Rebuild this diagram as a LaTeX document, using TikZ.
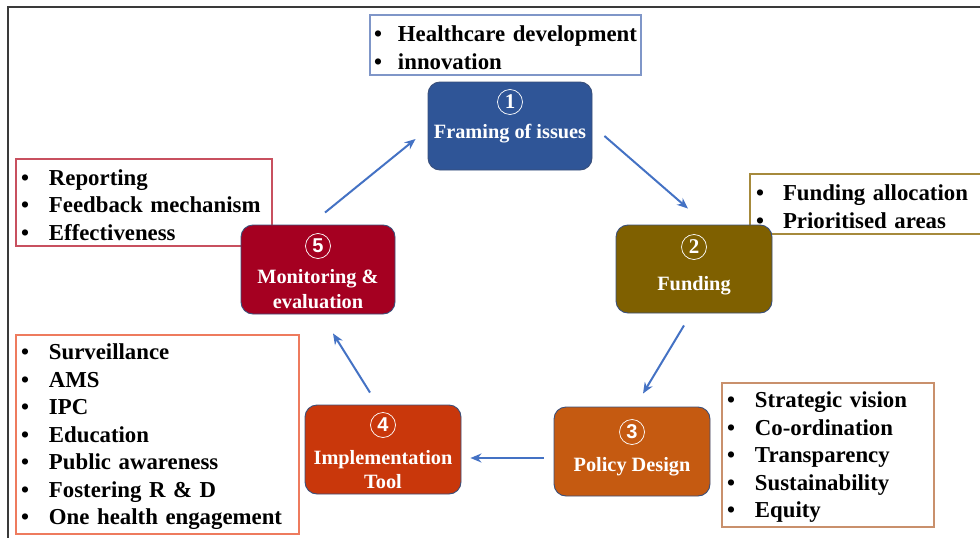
\documentclass[tikz,border=0pt]{standalone}
\usepackage{fontspec}
\setmainfont{Liberation Serif}
\newfontfamily\numfont{Liberation Sans}
\usetikzlibrary{arrows.meta}

\definecolor{framingblue}{HTML}{2F5597}
\definecolor{fundingbrown}{HTML}{7F6000}
\definecolor{policyorange}{HTML}{C55A11}
\definecolor{toolred}{HTML}{C9370B}
\definecolor{monitorred}{HTML}{A50021}
\definecolor{stageline}{HTML}{3A4F7A}
\definecolor{flowblue}{HTML}{4472C4}
\definecolor{framegray}{HTML}{3A3A3A}
\definecolor{lineone}{HTML}{7F96C8}
\definecolor{linetwo}{HTML}{A68A3C}
\definecolor{linethree}{HTML}{C9906C}
\definecolor{linefour}{HTML}{EE7B5E}
\definecolor{linefive}{HTML}{C8505F}

% bullet with a fixed gap before the item text
\newcommand{\li}[1][28pt]{\makebox[#1][l]{\textbullet}}

\tikzset{
  stage/.style={rectangle, rounded corners=12pt, draw=stageline, line width=0.9pt,
    minimum width=156pt, minimum height=89pt, inner sep=0pt},
  stagetext/.style={text=white, align=center, inner sep=0pt,
    font=\fontsize{20.3}{24.5}\selectfont\bfseries},
  num/.style={circle, draw=white, line width=0.7pt, minimum size=25pt, inner sep=0pt,
    text=white, font=\fontsize{21}{21}\selectfont\bfseries},
  sansnum/.style={num, font=\fontsize{20}{20}\selectfont\numfont\bfseries},
  listbox/.style={rectangle, line width=1.1pt, fill=white, align=left, inner ysep=0pt,
    font=\fontsize{22.8}{27.5}\selectfont\bfseries,
    execute at end node={\par\vspace*{-5pt}}},
  flow/.style={draw=flowblue, line width=2pt, -{Stealth[length=11pt,width=9pt]}},
}

\begin{document}
\begin{tikzpicture}[x=1pt, y=-1pt]
\useasboundingbox (0,0) rectangle (980,538);

% frame
\draw[framegray, line width=2pt] (8,540) -- (8,7) -- (985,7);

% lists
\node[listbox, draw=lineone, inner xsep=4pt, text width=263pt, minimum height=60pt] (t1) at (505.5,45)
  {\li[24pt]Healthcare development\\ \li[24pt]innovation};
\node[listbox, draw=linetwo, inner xsep=6pt, text width=228pt, minimum height=60pt] (t2) at (870,204)
  {\li[27pt]Funding allocation\\ \li[27pt]Prioritised areas};
\node[listbox, draw=linethree, inner xsep=5pt, text width=202pt, minimum height=144pt] (t3) at (828,455)
  {\li Strategic vision\\ \li Co-ordination\\ \li Transparency\\ \li Sustainability\\ \li Equity};
\node[listbox, draw=linefour, inner xsep=5pt, text width=273pt, minimum height=199pt] (t4) at (157.5,434.5)
  {\li Surveillance\\ \li AMS\\ \li IPC\\ \li Education\\ \li Public awareness\\ \li Fostering R \& D\\ \li One health engagement};
\node[listbox, draw=linefive, inner xsep=5pt, text width=246pt, minimum height=87pt] (t5) at (144,202.5)
  {\li Reporting\\ \li Feedback mechanism\\ \li Effectiveness};

% stages
\node[stage, fill=framingblue, minimum width=164pt, minimum height=88pt] (s1) at (510,126) {};
\node[num] (n1) at (510,102) {1};
\node[stagetext] (l1) at (510,134) {Framing of issues};

\node[stage, fill=fundingbrown, minimum height=88pt] (s2) at (694,269) {};
\node[num] (n2) at (694,247) {2};
\node[stagetext] (l2) at (694,286) {Funding};

\node[stage, fill=policyorange] (s3) at (632,451.5) {};
\node[sansnum] (n3) at (632,432) {3};
\node[stagetext] (l3) at (632,467) {Policy Design};

\node[stage, fill=toolred] (s4) at (383,449.5) {};
\node[sansnum] (n4) at (383,425) {4};
\node[stagetext] (l4) at (383,469.5) {Implementation\\Tool};

\node[stage, fill=monitorred, minimum width=154pt] (s5) at (318,269.5) {};
\node[sansnum] (n5) at (318,246) {5};
\node[stagetext] (l5) at (318,289) {Monitoring \&\\evaluation};

% cycle
\draw[flow] ([xshift=12pt,yshift=-10pt]s1.east) -- ([xshift=-6pt,yshift=16pt]s2.north);
\draw[flow] ([xshift=-10pt,yshift=-12pt]s2.south) -- ([xshift=11pt,yshift=13pt]s3.north);
\draw[flow] ([xshift=-10pt,yshift=-6.5pt]s3.west) -- ([xshift=9pt,yshift=-8.5pt]s4.east);
\draw[flow] ([xshift=-13pt,yshift=12pt]s4.north) -- ([xshift=15pt,yshift=-19pt]s5.south);
\draw[flow] ([xshift=7pt,yshift=12pt]s5.north) -- ([xshift=-12pt,yshift=-13pt]s1.west);
\end{tikzpicture}
\end{document}
